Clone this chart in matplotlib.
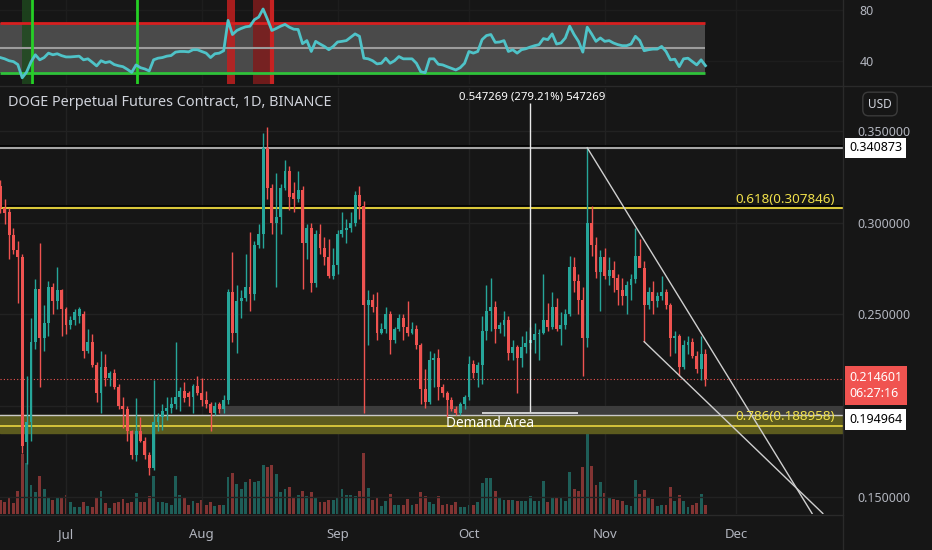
import matplotlib
matplotlib.use('Agg')
import matplotlib.pyplot as plt
import matplotlib.dates as mdates
from matplotlib.lines import Line2D
from matplotlib.patches import Rectangle
from matplotlib.ticker import FuncFormatter
import numpy as np
import pandas as pd

plt.rcParams['font.family'] = ['Noto Sans', 'DejaVu Sans']

# daily candles, 16 Jun - 24 Nov 2021
dates = pd.date_range('2021-06-16', periods=162, freq='D')

opens = [
    # Jun 16-30
    .320, .308, .306, .293, .285, .281, .180, .191, .235, .264, .237, .245, .265, .257, .263,
    # Jul
    .253, .244, .247, .249, .250, .230, .235, .222, .207, .221, .215, .218, .210, .200, .198, .186,
    .173, .186, .181, .173, .166, .191, .194, .197, .199, .201, .205, .208, .207, .205, .211,
    # Aug
    .207, .203, .201, .196, .201, .198, .203, .262, .240, .257, .259, .265, .261, .288, .294, .341,
    .319, .300, .303, .319, .328, .316, .313, .318, .289, .297, .267, .294, .286, .281, .271,
    # Sep
    .277, .294, .296, .297, .300, .315, .309, .255, .258, .254, .240, .242, .250, .236, .242,
    .248, .243, .240, .242, .233, .209, .202, .225, .226, .210, .207, .203, .198, .196, .201,
    # Oct
    .205, .223, .218, .222, .241, .252, .254, .242, .244, .247, .229, .232, .226, .232, .234, .236,
    .239, .240, .247, .243, .254, .242, .244, .250, .276, .268, .258, .237, .300, .288, .273,
    # Nov 1-24
    .281, .271, .274, .270, .263, .260, .266, .269, .282, .275, .255, .262, .257, .260, .262,
    .255, .237, .238, .221, .233, .235, .227, .220, .228,
]
highs = [
    .323, .313, .308, .297, .290, .283, .216, .248, .269, .289, .255, .268, .267, .276, .264,
    .254, .249, .253, .254, .252, .242, .239, .224, .230, .228, .219, .220, .212, .205, .200, .187,
    .204, .194, .183, .175, .214, .196, .201, .205, .205, .235, .210, .213, .208, .212, .216,
    .215, .208, .202, .202, .202, .206, .264, .284, .266, .263, .283, .295, .290, .299, .349, .352,
    .321, .327, .321, .334, .331, .322, .328, .320, .299, .300, .296, .299, .292, .291, .286,
    .296, .306, .302, .306, .317, .320, .312, .263, .261, .262, .245, .254, .252, .243, .250,
    .250, .257, .246, .244, .234, .220, .230, .229, .231, .212, .208, .205, .200, .202, .206,
    .227, .225, .224, .249, .266, .270, .257, .246, .252, .249, .236, .233, .238, .241, .243, .245,
    .242, .272, .256, .262, .259, .251, .253, .282, .281, .272, .265, .341, .309, .292, .285,
    .286, .281, .279, .272, .270, .268, .272, .297, .291, .279, .265, .268, .262, .271, .264,
    .256, .241, .239, .236, .238, .237, .230, .238, .231,
]
lows = [
    .305, .299, .280, .283, .256, .174, .168, .181, .231, .210, .230, .238, .250, .253, .238,
    .239, .242, .244, .245, .226, .229, .221, .202, .196, .211, .211, .209, .198, .188, .181, .171,
    .170, .180, .171, .162, .165, .186, .187, .192, .196, .198, .197, .202, .200, .196, .206,
    .200, .199, .186, .195, .196, .196, .201, .235, .229, .248, .257, .252, .258, .286, .286, .313,
    .294, .265, .294, .318, .307, .306, .311, .264, .280, .262, .265, .283, .277, .270, .269,
    .272, .292, .289, .295, .298, .302, .196, .233, .251, .236, .239, .240, .228, .234, .241,
    .236, .238, .239, .231, .201, .199, .201, .210, .203, .205, .194, .197, .195, .195, .198,
    .203, .215, .210, .212, .236, .241, .234, .240, .238, .225, .225, .207, .221, .229, .231, .229,
    .225, .239, .241, .242, .241, .233, .242, .249, .262, .250, .216, .232, .282, .270, .252,
    .269, .266, .262, .255, .255, .250, .258, .267, .276, .235, .253, .250, .254, .258, .253,
    .227, .229, .216, .220, .228, .226, .218, .214, .211,
]
closes = [
    .308, .305, .293, .285, .281, .178, .191, .235, .264, .237, .245, .265, .257, .263, .253,
    .244, .247, .251, .253, .230, .235, .222, .207, .221, .215, .218, .210, .200, .198, .186, .173,
    .186, .181, .173, .166, .191, .194, .197, .199, .201, .205, .208, .204, .205, .211, .207,
    .203, .201, .196, .200, .198, .203, .262, .240, .257, .259, .265, .261, .288, .294, .341, .319,
    .300, .303, .319, .328, .314, .313, .318, .289, .297, .267, .294, .286, .281, .271, .277,
    .294, .296, .297, .300, .315, .309, .255, .258, .254, .240, .242, .250, .236, .242, .248,
    .243, .240, .242, .233, .209, .202, .225, .226, .210, .207, .203, .198, .196, .201, .205,
    .223, .218, .222, .241, .252, .254, .242, .244, .247, .229, .232, .226, .232, .234, .236, .239,
    .240, .247, .243, .254, .242, .244, .250, .276, .268, .258, .237, .300, .288, .273, .281,
    .271, .274, .270, .263, .260, .266, .269, .282, .275, .255, .262, .257, .260, .262, .255,
    .237, .238, .221, .233, .235, .227, .220, .228, .2146,
]
# volume, billions
volumes = [
    1.4, 1.2, 1.7, 1.1, 2.3, 6.0, 5.1, 2.9, 2.2, 3.8, 2.5, 1.6, 1.4, 1.7, 1.7,
    1.9, 1.2, 0.7, 0.7, 1.2, 0.8, 0.7, 1.7, 2.3, 1.1, 0.6, 1.1, 1.2, 1.5, 1.1, 1.2,
    2.1, 1.2, 1.2, 1.8, 3.8, 1.2, 1.2, 1.1, 0.9, 3.8, 1.9, 1.7, 0.9, 1.3, 1.1,
    1.4, 0.9, 1.2, 0.8, 0.9, 0.9, 3.7, 4.1, 3.0, 2.5, 3.2, 3.5, 3.2, 3.3, 4.9, 4.7,
    4.9, 4.0, 2.2, 2.5, 2.7, 1.7, 1.9, 2.3, 1.8, 2.2, 1.7, 1.2, 1.2, 1.4, 1.4,
    1.6, 2.5, 1.9, 1.9, 1.8, 2.3, 6.1, 2.6, 1.4, 1.7, 0.8, 1.3, 2.0, 0.9, 0.9,
    0.9, 1.5, 0.9, 1.0, 2.2, 1.8, 1.2, 1.0, 1.8, 0.9, 1.0, 0.9, 1.2, 0.7, 0.7,
    0.9, 0.9, 1.2, 3.1, 3.6, 3.6, 2.3, 1.6, 1.4, 1.4, 1.4, 1.3, 1.3, 1.3, 1.8, 1.3,
    1.3, 3.3, 1.2, 1.6, 1.6, 1.7, 1.3, 4.2, 2.5, 2.3, 4.7, 10.5, 4.8, 2.9, 3.2,
    2.1, 1.6, 1.5, 1.4, 1.3, 0.9, 0.8, 3.4, 2.0, 2.4, 1.7, 1.5, 0.8, 0.9, 0.9,
    2.7, 1.3, 1.9, 1.3, 0.7, 0.9, 1.1, 2.0, 0.9,
]
rsi = [
    42.5, 41.5, 40, 39.3, 37, 26.5, 31, 39, 44.7, 40.7, 42.5, 46, 44.7, 45.5, 44,
    43, 43, 43.3, 43.6, 40.7, 41.5, 38.8, 35.9, 40, 38.5, 39.3, 37, 36, 35.3, 33.2, 30.8,
    36.7, 34.5, 33.5, 31.9, 40.7, 42, 42.5, 43.6, 44.1, 46.8, 47.3, 47.3, 47, 48.7, 48.7,
    47.3, 46, 42.5, 45.5, 46, 47.9, 71.9, 60.7, 63.9, 65.5, 66.8, 67.3, 72.4, 74.5, 80.9, 72.7,
    63.9, 65.5, 67.3, 68.7, 66.5, 64.9, 64.7, 53.5, 55.9, 47.3, 55.3, 53.2, 51.3, 48.7, 51.3,
    54.8, 55.3, 55.9, 58.5, 61.2, 59.3, 42, 41.5, 40, 37.5, 38, 42, 38, 40, 43.3,
    41.5, 41.5, 41.5, 38, 31.3, 30.5, 41.5, 41.5, 37.2, 36.7, 35.3, 34, 32.7, 34.5, 38,
    47.3, 46, 47.3, 56.7, 59.9, 60.7, 54.5, 54.8, 55.9, 47.3, 48.7, 46, 48.7, 49.5, 50.8, 51.9,
    52.7, 57.5, 56.7, 61.2, 53.2, 54, 58, 67.3, 60.7, 55.3, 46.8, 66.5, 61.2, 55.3, 58,
    55.3, 55.9, 54, 52.7, 51.9, 51.9, 53.2, 59.3, 55.9, 47.9, 48.7, 49.2, 49.2, 51.3, 47.3,
    40.7, 41.2, 35.3, 41.5, 42, 39.3, 36.7, 40.7, 36.1,
]

# drawn levels
swing_high = 0.340873
fib_618 = 0.307846
fib_786 = 0.188958
demand_top = 0.194964
demand_bottom = 0.1849
last_price = 0.214601
# trend lines (start, end)
upper_trend = [('2021-10-28', 0.340873), ('2021-12-18 08:00', 0.1412)]
lower_trend = [('2021-11-10', 0.235), ('2021-12-20 19:00', 0.1412)]
# RSI signal marks
green_signals = ['2021-06-23 06:00', '2021-07-17 06:00']
red_spans = [('2021-08-06 18:00', '2021-08-08 14:00'), ('2021-08-12 14:00', '2021-08-17 12:00')]

BG = '#161616'
UP = '#26a69a'
DOWN = '#ef5350'
GRID = '#222222'
TXT = '#b2b5be'

W, H = 932, 550
fig = plt.figure(figsize=(W / 100, H / 100), dpi=100, facecolor=BG)


def px_axes(l, t, r, b, **kw):
    return fig.add_axes([l / W, 1 - b / H, (r - l) / W, (b - t) / H], **kw)


def dn(s):
    return mdates.date2num(pd.Timestamp(s))


x = mdates.date2num(dates)
jul1 = dn('2021-07-01')
xlim = (jul1 - 66 / 4.38, jul1 + (843 - 66) / 4.38)
o, h, l, c = map(np.array, (opens, highs, lows, closes))
cols = np.where(c >= o, UP, DOWN)

# ---------- volume (behind the price pane) ----------
axv = px_axes(0, 88, 843, 514)
axv.set_facecolor(BG)
axv.bar(x, volumes, width=0.65, color=cols, alpha=0.5, lw=0)
axv.set_xlim(xlim)
axv.set_ylim(0, 42.6)
axv.set_xticks([])
axv.set_yticks([])
for s in axv.spines.values():
    s.set_visible(False)

# ---------- price pane ----------
ax = px_axes(0, 88, 843, 514)
ax.patch.set_alpha(0)
ax.set_xlim(xlim)
ax.set_ylim(0.1409, 0.3735)
for s in ax.spines.values():
    s.set_visible(False)
ax.set_yticks([0.15, 0.20, 0.25, 0.30, 0.35])
ax.yaxis.tick_right()
ax.yaxis.set_major_formatter(FuncFormatter(lambda v, p: '' if abs(v - 0.2) < 1e-6 else f'{v:.6f}'))
ax.xaxis.set_major_locator(mdates.MonthLocator())
ax.xaxis.set_major_formatter(mdates.DateFormatter('%b'))
ax.tick_params(axis='y', length=0, pad=10, labelsize=9, colors=TXT)
ax.tick_params(axis='x', length=0, pad=10, labelsize=9.5, colors=TXT)
ax.grid(True, color=GRID, lw=1)
ax.set_axisbelow(True)

# demand zone
ax.axhspan(demand_bottom, demand_top, color='#5c5b1e', zorder=1)
ax.add_patch(Rectangle((dn('2021-08-05 05:00'), demand_top), xlim[1] - dn('2021-08-05 05:00'), 0.0048,
                       facecolor='#3c3c3c', edgecolor='none', zorder=1))
ax.axhline(demand_top, color='#c9c9c9', lw=1, zorder=2)
ax.axhline(fib_786, color='#e8d53f', lw=1.2, zorder=2)

# swing high and fib 0.618
ax.axhline(swing_high + 0.0011, color='#000000', lw=1.2, zorder=2)
ax.axhline(swing_high, color='#a5a5a5', lw=1.5, zorder=2)
ax.axhline(fib_618 + 0.0011, color='#000000', lw=1.2, zorder=2)
ax.axhline(fib_618, color='#d9c73a', lw=1.5, zorder=2)
ax.axhline(last_price, color=DOWN, lw=0.8, ls=(0, (1, 2)), zorder=2)

# candles
ax.vlines(x, l, h, colors=cols, lw=1, zorder=3)
ax.bar(x, np.maximum(np.abs(c - o), 0.0007), bottom=np.minimum(o, c), width=0.66,
       color=cols, lw=0, zorder=4)

# trend lines
for (d0, p0), (d1, p1) in (upper_trend, lower_trend):
    ax.plot([dn(d0), dn(d1)], [p0, p1], color='#cfcfcf', lw=1, zorder=5, clip_on=True)

# measure tool
mx = jul1 + (530 - 66) / 4.38
ax.vlines(mx, 0.1965, 0.3653, color='#e8e8e8', lw=1, zorder=5)
ax.hlines(0.1962, jul1 + (482 - 66) / 4.38, jul1 + (578 - 66) / 4.38, color='#e8e8e8', lw=1.2, zorder=5)
ax.text(jul1 + (532 - 66) / 4.38, 0.3688, '0.547269 (279.21%) 547269', color='white', fontsize=8.2,
        weight='semibold', ha='center', va='center', zorder=6)

# level labels
xr = jul1 + (835 - 66) / 4.38
ax.text(xr, 0.3128, '0.618(0.307846)', color='#f0e04a', fontsize=9.7, ha='right', va='center', zorder=6)
ax.text(xr, 0.1941, '0.786(0.188958)', color='#f0e04a', fontsize=9.7, ha='right', va='center', zorder=6)
ax.text(jul1 + (490 - 66) / 4.38, 0.1903, 'Demand Area', color='white', fontsize=9.8,
        weight='medium', ha='center', va='center', zorder=6)

# price axis boxes
yt = ax.get_yaxis_transform()
ax.text(1.0 + 6 / 843, swing_high, '0.340873', transform=yt, color='black', fontsize=9, ha='left',
        va='center', clip_on=False, bbox=dict(boxstyle='square,pad=0.3', fc='white', ec='none'))
ax.text(1.0 + 6 / 843, 0.2111, '0.214601\n06:27:16', transform=yt, color='white', fontsize=9, ha='left',
        va='center', linespacing=1.35, clip_on=False,
        bbox=dict(boxstyle='square,pad=0.35', fc='#f05350', ec='none'))
ax.text(1.0 + 6 / 843, 0.1924, '0.194964', transform=yt, color='black', fontsize=9, ha='left',
        va='center', clip_on=False, bbox=dict(boxstyle='square,pad=0.3', fc='white', ec='none'))

# ---------- RSI pane ----------
ar = px_axes(0, 0, 843, 84)
ar.set_facecolor(BG)
ar.set_xlim(xlim)
ar.set_ylim(21.6, 88)
for s in ar.spines.values():
    s.set_visible(False)
ar.set_xticks(ax.get_xticks())
ar.tick_params(axis='x', length=0, labelbottom=False)
ar.set_yticks([40, 80])
ar.yaxis.tick_right()
ar.tick_params(axis='y', length=0, pad=12, labelsize=9, colors=TXT)
ar.grid(True, color='#1d1d1d', lw=1)
ar.set_axisbelow(True)
xend = x[-1]
ar.fill_between([xlim[0], xend], 30, 70, color='#4a4a4a', lw=0, zorder=1)
ar.hlines(70, xlim[0], xend, color='#d81f1f', lw=2, zorder=3)
ar.hlines(30, xlim[0], xend, color='#2fc23a', lw=2, zorder=3)
ar.hlines(50, xlim[0], xend, color='#9c9c9c', lw=1.5, zorder=3)
ar.axvspan(dn('2021-06-21'), dn('2021-06-23'), color='#1e4a1e', alpha=0.8, lw=0, zorder=2)
for g in green_signals:
    ar.axvline(dn(g), color='#25d025', lw=2, zorder=3)
ar.axvspan(dn(red_spans[0][0]), dn(red_spans[0][1]), color='#c21f1f', alpha=0.85, lw=0, zorder=2)
ar.axvspan(dn(red_spans[1][0]), dn(red_spans[1][1]), color='#7e1c1c', alpha=0.85, lw=0, zorder=2)
ar.axvline(dn(red_spans[1][1]) - 0.4, color='#c62222', lw=3, zorder=2)
ar.plot(x, rsi, color='#4fc3c8', lw=2, zorder=4)

# ---------- pane separators, header ----------
fig.add_artist(Line2D([0, 1], [1 - 86 / H, 1 - 86 / H], color='#2a2a2a', lw=1))
fig.add_artist(Line2D([843 / W, 843 / W], [0, 1], color='#2a2a2a', lw=1))
fig.add_artist(Line2D([0, 843 / W], [1 - 515 / H, 1 - 515 / H], color='#2a2a2a', lw=1))
fig.text(8 / W, 1 - 103 / H, 'DOGE Perpetual Futures Contract, 1D, BINANCE', color='#d1d4dc',
         fontsize=10.4, ha='left', va='center')
fig.text(880 / W, 1 - 104 / H, 'USD', color='#d1d4dc', fontsize=8.5, ha='center', va='center',
         bbox=dict(boxstyle='round,pad=0.45,rounding_size=0.5', fc=BG, ec='#3b3b3b', lw=1))

fig.savefig('out.png', dpi=100, facecolor=BG)
